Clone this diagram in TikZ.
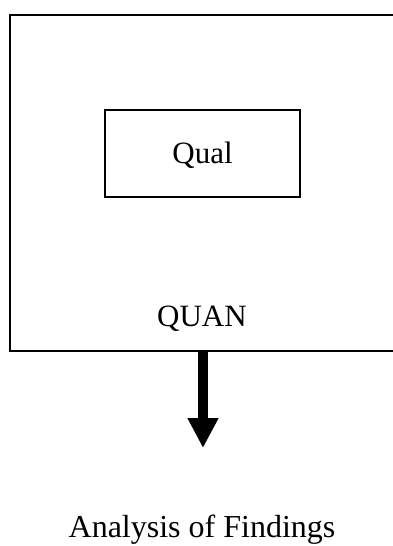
\documentclass[tikz,border=0pt]{standalone}
\usepackage{fontspec}
\setmainfont{Liberation Serif}
\usetikzlibrary{arrows.meta}
\tikzset{
  frame/.style={draw=black, line width=1.6pt, inner sep=0pt},
  label text/.style={font=\fontsize{31}{37}\selectfont, inner sep=0pt},
  bigarrow/.style={line width=10pt, -{Triangle[width=29pt,length=30pt]}}
}
\begin{document}
\begin{tikzpicture}[x=1pt,y=-1pt]
  \useasboundingbox (0,0) rectangle (393,546);
  \clip (0,0) rectangle (393,546);
  % outer QUAN frame (runs past the right edge)
  \node[frame, anchor=north west, minimum width=420pt, minimum height=336pt] (quanbox) at (9,14) {};
  % embedded qualitative component
  \node[frame, line width=1.3pt, minimum width=195pt, minimum height=87pt,
        label text, text height=21pt, text depth=2pt] (qual) at (202.5,153.5) {Qual};
  \node[label text, anchor=base] (quan) at (202,326) {QUAN};
  \node[label text, font=\fontsize{32}{38}\selectfont, anchor=base] (findings) at (202,537) {Analysis of Findings};
  % arrow leading to the analysis
  \coordinate (arrowx) at (203,0);
  \coordinate (arrowtop) at (arrowx |- quanbox.south);
  \coordinate (arrowtip) at (203,448);
  \draw[bigarrow] (arrowtop) -- (arrowtip);
\end{tikzpicture}
\end{document}
